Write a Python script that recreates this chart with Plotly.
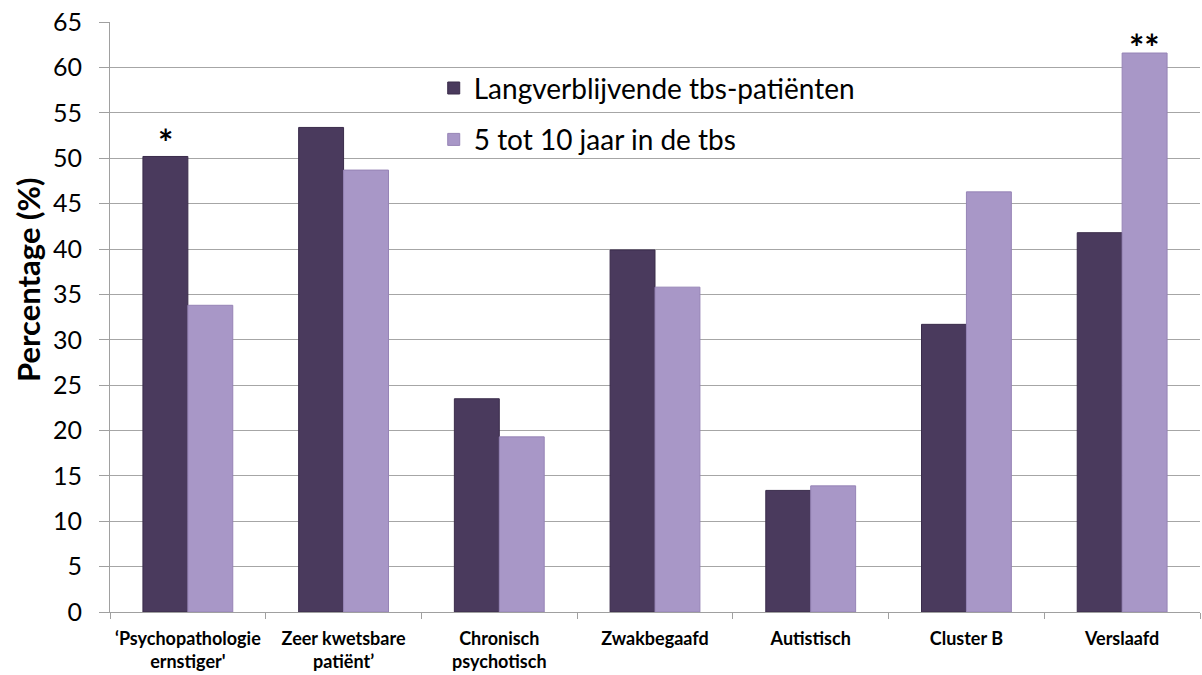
import plotly.graph_objects as go

categories = ["‘Psychopathologie<br>ernstiger'", "Zeer kwetsbare<br>patiënt’", "Chronisch<br>psychotisch",
              "Zwakbegaafd", "Autistisch", "Cluster B", "Verslaafd"]
series1_name = "Langverblijvende tbs-patiënten"
series2_name = "5 tot 10 jaar in de tbs"
series1 = [50.2, 53.4, 23.5, 39.9, 13.4, 31.7, 41.8]
series2 = [33.8, 48.7, 19.3, 35.8, 13.9, 46.3, 61.6]
y_ticks = list(range(0, 70, 5))

fig = go.Figure()
fig.add_trace(go.Bar(x=categories, y=series1, name=series1_name, legendgroup="a",
                     marker=dict(color="#4A3A5D", line=dict(color="#3A2C4B", width=1))))
fig.add_trace(go.Bar(x=categories, y=series2, name=series2_name, legendgroup="b",
                     marker=dict(color="#A897C7", line=dict(color="#9684B6", width=1))))

fig.add_annotation(x=categories[0], y=series1[0], text="<b>*</b>", showarrow=False, xshift=-22, yshift=-10,
                   font=dict(size=36, color="black", family="Lato"), yanchor="bottom")
fig.add_annotation(x=categories[6], y=series2[6], text="<b>**</b>", showarrow=False, xshift=22, yshift=-18,
                   font=dict(size=36, color="black", family="Lato"), yanchor="bottom")
fig.add_annotation(xref="paper", yref="paper", x=-0.0752, y=0.5627, text="<b>Percentage (%)</b>",
                   textangle=-90, showarrow=False, xanchor="center", yanchor="middle",
                   font=dict(size=31, color="black", family="Lato"))

fig.update_layout(
    width=1202, height=675,
    margin=dict(l=110, r=2, t=22, b=63),
    paper_bgcolor="white", plot_bgcolor="white",
    barmode="group", bargap=0.423, bargroupgap=0,
    font=dict(family="Lato", color="black"),
    legend=dict(x=0.297, y=0.93, xanchor="left", yanchor="top", bgcolor="rgba(0,0,0,0)",
                font=dict(size=28, family="Lato"), tracegroupgap=12, itemwidth=30),
    xaxis=dict(showgrid=False, showline=True, linecolor="#A0A0A0", linewidth=1, automargin=False,
               ticks="outside", tickson="boundaries", ticklen=6, tickcolor="#A0A0A0",
               tickfont=dict(size=18, family="Lato", color="black"), ticklabelstandoff=10,
               tickangle=0),
    yaxis=dict(range=[0, 65.02], tickvals=y_ticks, showgrid=True, gridcolor="#A6A6A6", gridwidth=1,
               showline=True, linecolor="#A0A0A0", linewidth=1, ticks="outside", ticklen=10,
               tickcolor="#A0A0A0", tickfont=dict(size=25, family="Lato"), ticklabelstandoff=12,
               ticklabeloverflow="allow", automargin=False, zeroline=False),
)
fig.update_xaxes(tickprefix="<b>", ticksuffix="</b>")
fig.write_html("out.html", config={"displayModeBar": False},
               post_script="document.body.style.margin='0px';document.body.style.overflow='hidden';")
